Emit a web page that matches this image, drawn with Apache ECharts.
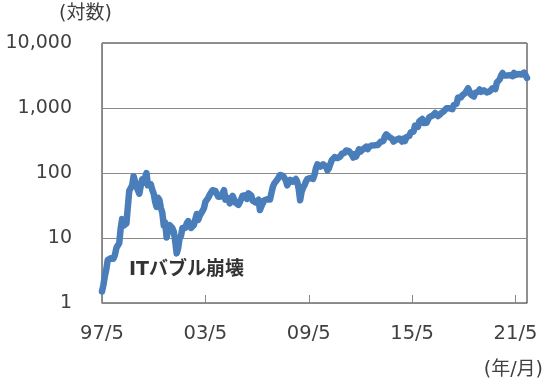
<!DOCTYPE html>
<html>
<head>
<meta charset="utf-8">
<script src="https://cdn.jsdelivr.net/npm/echarts@6/dist/echarts.min.js"></script>
<style>
html,body{margin:0;padding:0;background:#fff;}
#chart{width:550px;height:379px;}
</style>
</head>
<body>
<div id="chart"></div>
<script>
// Monthly values (log scale index), starting 1997/5
const startYear = 1997, startMonth = 5;
const p1997 = [1.5, 1.9, 2.6, 3.3, 4.6, 4.3, 4.9, 5.0];
const p1998 = [4.8, 5.5, 7.0, 7.7, 8.3, 14.0, 19.5, 15.5, 16.2, 16.8, 30.3, 53.5];
const p1999 = [58.5, 64.6, 89.4, 95.0, 62.0, 62.6, 48.0, 63.7, 80.0, 70.6, 85.1, 100.0];
const p2000 = [64.6, 68.9, 67.0, 55.2, 48.3, 36.3, 30.1, 41.5, 38.4, 29.1, 24.6, 15.6];
const p2001 = [17.3, 10.2, 10.2, 15.8, 16.7, 14.2, 12.5, 8.9, 5.8, 6.9, 9.8, 10.8];
const p2002 = [14.2, 14.1, 14.3, 16.7, 18.2, 16.3, 14.3, 15.0, 15.9, 19.4, 23.4, 18.9];
const p2003 = [21.9, 22.0, 26.0, 28.7, 35.9, 36.3, 41.6, 46.3, 48.4, 54.4, 54.0, 52.6];
const p2004 = [50.4, 43.0, 43.3, 43.6, 48.5, 54.4, 38.9, 38.1, 40.9, 34.1, 39.7, 44.3];
const p2005 = [43.2, 34.9, 34.3, 32.4, 35.5, 33.1, 44.8, 42.7, 45.3, 39.9, 48.5, 47.2];
const p2006 = [44.8, 37.4, 36.5, 35.2, 34.6, 38.7, 27.0, 30.8, 32.1, 38.1, 40.3, 39.5];
const p2007 = [37.7, 39.1, 39.8, 61.3, 69.1, 68.4, 78.5, 79.9, 93.2, 89.2, 90.6, 92.6];
const p2008 = [77.7, 64.5, 71.3, 78.6, 81.6, 73.3, 76.3, 80.8, 72.8, 57.2, 38.0, 51.3];
const p2009 = [58.8, 64.8, 73.4, 80.5, 78.0, 83.7, 85.8, 81.2, 93.4, 118.8, 135.9, 134.5];
const p2010 = [125.4, 118.4, 135.8, 137.1, 125.5, 109.3, 117.9, 124.8, 157.1, 165.2, 175.4, 180.0];
const p2011 = [169.6, 173.3, 180.1, 196.7, 196.7, 204.5, 222.5, 215.0, 216.2, 213.5, 192.3, 173.1];
const p2012 = [194.4, 179.7, 202.5, 231.9, 212.9, 228.4, 233.3, 248.3, 254.3, 232.9, 252.1, 250.9];
const p2013 = [265.5, 264.3, 266.5, 253.8, 269.2, 277.7, 301.2, 281.0, 312.6, 364.0, 393.6, 398.8];
const p2014 = [358.7, 362.1, 336.4, 304.1, 312.6, 324.8, 313.0, 339.0, 322.4, 305.5, 338.6, 310.4];
const p2015 = [354.5, 380.2, 372.1, 421.8, 429.2, 434.1, 536.2, 512.9, 511.9, 625.9, 664.8, 675.9];
const p2016 = [587.0, 552.5, 593.6, 659.6, 722.8, 715.6, 758.8, 769.2, 837.3, 789.8, 750.6, 749.9];
const p2017 = [823.5, 845.0, 886.5, 925.0, 994.6, 968.0, 987.8, 980.6, 961.4, 1105.3, 1176.8, 1169.5];
const p2018 = [1450.9, 1512.5, 1447.3, 1566.1, 1629.6, 1699.8, 1777.4, 2012.7, 2003.0, 1598.0, 1690.2, 1502.0];
const p2019 = [1718.7, 1639.8, 1780.8, 1926.5, 1775.1, 1893.6, 1866.8, 1776.3, 1735.9, 1776.7, 1800.8, 1847.8];
const p2020 = [2008.7, 1883.8, 1949.7, 2474.0, 2442.4, 2758.8, 3164.7, 3451.0, 3148.7, 3036.2, 3168.0, 3256.9];
const p2021 = [3206.2, 3092.9, 3094.1, 3467.4, 3223.1, 3440.2, 3327.6, 3470.8, 3285.0, 3372.4, 3507.1, 3334.3];
const p2022 = [2900.0];

const yTickLabels = {1: '1', 10: '10', 100: '100', 1000: '1,000', 10000: '10,000'};
const annotation = 'ITバブル崩壊';
const yUnit = '(対数)';
const xUnit = '(年/月)';

const values = [].concat(p1997, p1998, p1999, p2000, p2001, p2002, p2003, p2004, p2005,
  p2006, p2007, p2008, p2009, p2010, p2011, p2012, p2013, p2014, p2015, p2016, p2017,
  p2018, p2019, p2020, p2021, p2022);

const categories = values.map((v, i) => {
  const m0 = startMonth - 1 + i;
  const y = startYear + Math.floor(m0 / 12);
  const m = (m0 % 12) + 1;
  return String(y % 100).padStart(2, '0') + '/' + m;
});

const NUMFONT = '"DejaVu Sans", "Noto Sans CJK JP", sans-serif';
const CJKFONT = '"DejaVu Sans", "Noto Sans CJK JP", sans-serif';
const chart = echarts.init(document.getElementById('chart'), null, {renderer: 'canvas'});
chart.setOption({
  animation: false,
  backgroundColor: '#fff',
  grid: {left: 102, right: 23, top: 43, bottom: 76, show: true, borderColor: '#222', borderWidth: 1},
  xAxis: {
    type: 'category',
    data: categories,
    boundaryGap: false,
    axisLine: {lineStyle: {color: '#888', width: 1}},
    axisTick: {show: true, inside: true, length: 8, interval: 71, lineStyle: {color: '#888'}},
    axisLabel: {interval: 71, margin: 21, fontSize: 19.5, color: '#404040', fontFamily: NUMFONT},
    splitLine: {show: false}
  },
  yAxis: {
    type: 'log',
    logBase: 10,
    min: 1,
    max: 10000,
    axisLine: {show: true, lineStyle: {color: '#888', width: 1}},
    axisTick: {show: false},
    axisLabel: {margin: 30, fontSize: 19, color: '#404040', fontFamily: NUMFONT,
      formatter: v => yTickLabels[Math.round(v)] || ''},
    splitLine: {show: true, lineStyle: {color: '#8a8a8a', width: 1}}
  },
  series: [{
    type: 'line',
    data: values,
    showSymbol: false,
    symbol: 'none',
    lineStyle: {color: '#4a7ebb', width: 6.5, join: 'round', cap: 'round'},
    z: 3
  }],
  graphic: [
    {type: 'text', left: 59, top: 5, style: {text: yUnit, font: '19px ' + CJKFONT, fill: '#404040'}},
    {type: 'text', right: 7, top: 361, style: {text: xUnit, font: '19px ' + CJKFONT, fill: '#404040'}},
    {type: 'text', left: 129, top: 261, style: {text: annotation, font: 'bold 19px ' + CJKFONT, fill: '#333'}}
  ]
});
</script>
</body>
</html>
